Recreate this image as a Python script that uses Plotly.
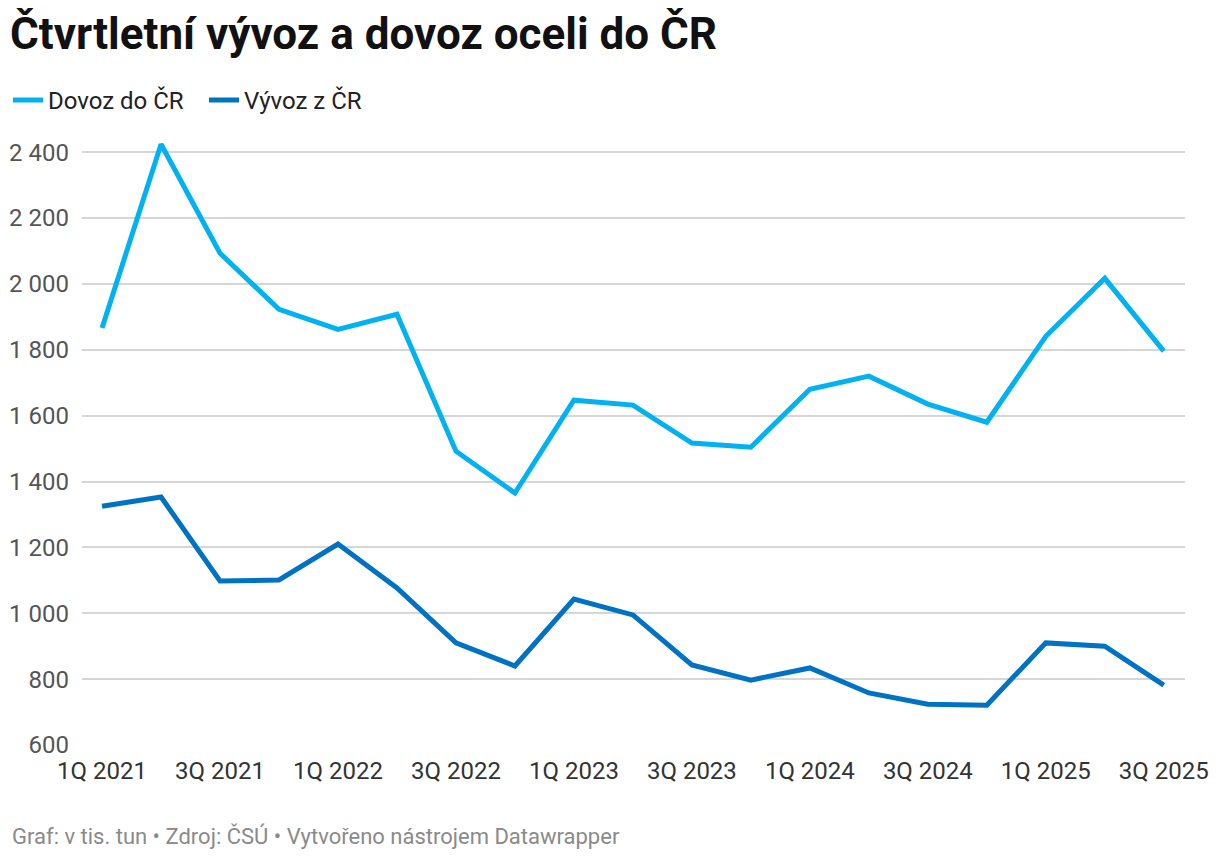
import plotly.graph_objects as go

quarters = ["1Q 2021", "2Q 2021", "3Q 2021", "4Q 2021",
            "1Q 2022", "2Q 2022", "3Q 2022", "4Q 2022",
            "1Q 2023", "2Q 2023", "3Q 2023", "4Q 2023",
            "1Q 2024", "2Q 2024", "3Q 2024", "4Q 2024",
            "1Q 2025", "2Q 2025", "3Q 2025"]
dovoz = [1866, 2424, 2093, 1923, 1862, 1908, 1492, 1365, 1647, 1632,
         1517, 1504, 1680, 1720, 1635, 1580, 1841, 2017, 1796]
vyvoz = [1325, 1353, 1098, 1101, 1210, 1077, 910, 840, 1043, 995,
         843, 797, 834, 758, 724, 721, 910, 900, 782]
x_ticks = quarters[::2]
y_ticks = [600, 800, 1000, 1200, 1400, 1600, 1800, 2000, 2200, 2400]

fig = go.Figure()
fig.add_trace(go.Scatter(x=quarters, y=dovoz, name="Dovoz do ČR", mode="lines",
                         line=dict(color="#02b2f0", width=5)))
fig.add_trace(go.Scatter(x=quarters, y=vyvoz, name="Vývoz z ČR", mode="lines",
                         line=dict(color="#0072c4", width=5)))

# page has an 8px body margin, so the figure is a bit smaller than the window
fig.update_layout(
    width=1212, height=852,
    paper_bgcolor="white", plot_bgcolor="white",
    font=dict(family="Roboto", color="#333"),
    separators=", ",
    margin=dict(l=74, r=35, t=131, b=115, autoexpand=False),
    showlegend=True,
    legend=dict(orientation="h", xref="container", x=0.0, xanchor="left",
                y=0.918, yref="container", yanchor="top",
                font=dict(size=24, color="#222"),
                itemwidth=30, tracegroupgap=0,
                entrywidth=151, entrywidthmode="pixels"),
    title=dict(text="<b>Čtvrtletní vývoz a dovoz oceli do ČR</b>",
               x=0.0017, xanchor="left", y=0.988, yanchor="top",
               font=dict(size=44, color="#111")),
    xaxis=dict(type="category", range=[-0.34, 18.36], tickvals=x_ticks,
               showgrid=False, showline=False, zeroline=False,
               tickfont=dict(size=24, color="#333"), ticks="", ticklabelstandoff=9),
    yaxis=dict(range=[600, 2440], tickvals=y_ticks, tickformat=",d",
               showgrid=True, gridcolor="#d6d6d6", gridwidth=1.5,
               zeroline=False, showline=False, ticks="",
               tickfont=dict(size=24, color="#555"), ticklabelstandoff=12),
)

fig.add_annotation(text="Graf: v tis. tun • Zdroj: ČSÚ • Vytvořeno nástrojem Datawrapper",
                   xref="paper", yref="paper", x=-0.0653, y=-0.150,
                   xanchor="left", yanchor="middle", showarrow=False,
                   font=dict(size=22, color="#8a8a8a"))

fig.write_html("out.html")
